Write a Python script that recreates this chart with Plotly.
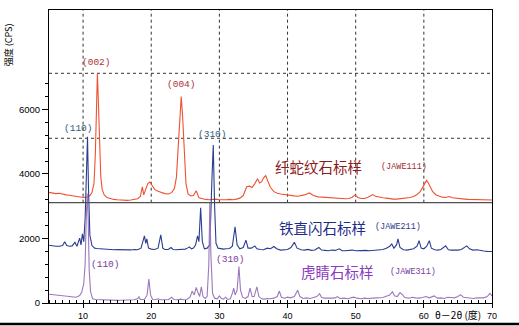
import plotly.graph_objects as go

# ---- data (2θ in degrees, intensity in CPS) ----
serpentine = [
    (5.0, 3430), (5.5, 3410), (6.0, 3390), (6.5, 3400), (7.0, 3370), (7.5, 3350), (8.0, 3340),
    (8.5, 3320), (9.0, 3300), (9.5, 3290), (10.0, 3270), (10.5, 3280), (11.0, 3330), (11.3, 3420),
    (11.6, 3700), (11.8, 4600), (11.95, 6000), (12.1, 7120), (12.25, 6200), (12.4, 4800),
    (12.6, 3900), (12.8, 3520), (13.1, 3350), (13.5, 3270), (14.0, 3230), (14.5, 3210),
    (15.0, 3200), (15.5, 3190), (16.0, 3200), (16.5, 3180), (17.0, 3190), (17.5, 3200),
    (18.0, 3230), (18.4, 3300), (18.7, 3600), (18.9, 3350), (19.2, 3500), (19.5, 3700),
    (19.8, 3750), (20.1, 3650), (20.5, 3520), (21.0, 3460), (21.5, 3420), (22.0, 3390),
    (22.5, 3380), (23.0, 3420), (23.4, 3550), (23.7, 3900), (23.95, 4800), (24.2, 5900),
    (24.4, 6395), (24.6, 5800), (24.85, 4500), (25.1, 3700), (25.4, 3380), (25.8, 3320),
    (26.2, 3330), (26.6, 3480), (27.0, 3260), (27.5, 3230), (28.0, 3210), (28.5, 3200),
    (29.0, 3210), (29.5, 3220), (30.0, 3200), (30.5, 3190), (31.0, 3200), (31.5, 3210),
    (32.0, 3200), (32.5, 3220), (33.0, 3250), (33.5, 3330), (34.0, 3600), (34.4, 3620),
    (34.8, 3580), (35.2, 3700), (35.6, 3850), (35.9, 3720), (36.2, 3760), (36.5, 3880),
    (36.8, 3950), (37.1, 3780), (37.5, 3580), (38.0, 3450), (38.5, 3400), (39.0, 3380),
    (39.5, 3360), (40.0, 3350), (40.5, 3330), (41.0, 3320), (41.5, 3310), (42.0, 3320),
    (42.5, 3350), (43.2, 3410), (43.8, 3330), (44.5, 3290), (45.0, 3280), (45.5, 3270),
    (46.0, 3260), (46.5, 3260), (47.0, 3250), (47.5, 3240), (48.0, 3240), (48.5, 3230),
    (49.0, 3240), (49.5, 3280), (49.9, 3350), (50.3, 3270), (50.8, 3240), (51.3, 3240),
    (51.8, 3280), (52.2, 3330), (52.5, 3360), (52.9, 3310), (53.4, 3280), (54.0, 3260),
    (54.5, 3250), (55.0, 3230), (55.5, 3220), (56.0, 3220), (56.5, 3230), (57.0, 3240),
    (57.5, 3250), (58.0, 3270), (58.5, 3300), (59.0, 3360), (59.5, 3460), (59.9, 3620),
    (60.2, 3760), (60.4, 3800), (60.6, 3740), (60.9, 3600), (61.3, 3450), (61.8, 3350),
    (62.3, 3300), (62.7, 3280), (63.2, 3270), (63.7, 3300), (64.2, 3260), (64.8, 3240),
    (65.5, 3230), (66.0, 3220), (66.5, 3210), (67.0, 3210), (67.5, 3200), (68.0, 3200),
    (68.5, 3195), (69.0, 3190), (69.5, 3190), (70.0, 3190),
]

grunerite = [
    (5.0, 1790), (5.5, 1770), (6.0, 1760), (6.5, 1760), (7.0, 1780), (7.3, 1900), (7.6, 1780),
    (8.0, 1760), (8.4, 1770), (8.8, 1880), (9.1, 1760), (9.5, 2010), (9.7, 1800), (9.9, 2140),
    (10.1, 1900), (10.3, 2600), (10.5, 4500), (10.65, 5155), (10.8, 3500), (11.0, 2100),
    (11.3, 1780), (11.7, 1700), (12.0, 1690), (12.5, 1680), (13.0, 1670), (13.5, 1665),
    (14.0, 1660), (14.5, 1650), (15.0, 1655), (15.5, 1650), (16.0, 1660), (16.5, 1650),
    (17.0, 1645), (17.5, 1660), (18.0, 1650), (18.5, 1700), (19.0, 2080), (19.2, 1850),
    (19.35, 1990), (19.6, 1700), (20.0, 1670), (20.5, 1660), (21.0, 1700), (21.4, 2110),
    (21.7, 1700), (22.0, 1660), (22.5, 1660), (22.9, 1720), (23.2, 1660), (23.6, 1650),
    (24.0, 1650), (24.5, 1650), (25.0, 1670), (25.3, 1700), (25.6, 1740), (25.9, 1680),
    (26.2, 1700), (26.5, 1800), (26.8, 2080), (27.0, 1900), (27.25, 2950), (27.5, 1900),
    (27.8, 1680), (28.2, 1700), (28.6, 1800), (28.9, 3800), (29.1, 4898), (29.3, 3000),
    (29.5, 1850), (29.8, 1700), (30.2, 1680), (30.6, 1670), (31.0, 1680), (31.5, 1690),
    (31.9, 1760), (32.3, 2360), (32.6, 1800), (33.0, 1680), (33.5, 1720), (33.9, 1950),
    (34.2, 1700), (34.7, 1700), (35.2, 1770), (35.5, 1680), (36.0, 1660), (36.5, 1650),
    (37.0, 1700), (37.5, 1680), (38.0, 1750), (38.4, 1680), (39.0, 1640), (39.5, 1650),
    (40.0, 1660), (40.5, 1720), (41.0, 1880), (41.4, 1700), (42.0, 1650), (42.5, 1640),
    (43.0, 1660), (43.5, 1630), (44.0, 1640), (44.6, 1720), (45.0, 1640), (45.5, 1630),
    (46.0, 1620), (46.5, 1640), (47.0, 1630), (47.6, 1680), (48.0, 1620), (48.5, 1620),
    (49.0, 1630), (49.5, 1640), (50.0, 1620), (50.5, 1630), (51.0, 1640), (51.5, 1630),
    (52.0, 1620), (52.5, 1630), (53.0, 1640), (53.5, 1650), (54.0, 1660), (54.5, 1700),
    (55.0, 1760), (55.3, 1830), (55.6, 1700), (56.0, 1800), (56.2, 1990), (56.5, 1720),
    (57.0, 1650), (57.5, 1640), (58.0, 1650), (58.5, 1680), (59.0, 1760), (59.3, 1930),
    (59.6, 1700), (60.0, 1680), (60.4, 1750), (60.8, 1930), (61.1, 1700), (61.6, 1650),
    (62.0, 1640), (62.5, 1660), (63.2, 1770), (63.6, 1650), (64.0, 1640), (64.5, 1630),
    (65.0, 1640), (65.5, 1660), (66.0, 1720), (66.3, 1770), (66.7, 1680), (67.2, 1640),
    (67.8, 1650), (68.3, 1620), (68.8, 1610), (69.3, 1600), (70.0, 1595),
]

tigereye = [
    (5.0, 270), (5.5, 260), (6.0, 250), (6.5, 240), (7.0, 220), (7.5, 210), (8.0, 190),
    (8.5, 180), (9.0, 180), (9.5, 230), (9.8, 330), (10.1, 600), (10.3, 1200), (10.45, 2500),
    (10.6, 3400), (10.75, 2600), (10.9, 1000), (11.1, 350), (11.4, 130), (11.8, 110),
    (12.5, 100), (13.0, 95), (13.5, 90), (14.0, 85), (14.5, 85), (15.0, 80), (15.5, 85),
    (16.0, 90), (16.5, 85), (17.0, 90), (17.5, 100), (18.0, 130), (18.2, 190), (18.4, 110),
    (19.0, 110), (19.4, 250), (19.65, 740), (19.9, 250), (20.2, 110), (20.6, 100), (21.0, 130),
    (21.4, 100), (22.0, 90), (22.5, 100), (23.0, 180), (23.3, 110), (23.8, 100), (24.3, 120),
    (24.7, 100), (25.2, 110), (25.7, 180), (26.0, 370), (26.3, 250), (26.6, 480), (26.9, 300),
    (27.1, 200), (27.35, 500), (27.6, 200), (27.9, 140), (28.2, 200), (28.45, 1200),
    (28.6, 3100), (28.75, 1500), (29.0, 300), (29.3, 150), (29.7, 130), (30.0, 220),
    (30.3, 140), (30.6, 120), (30.9, 180), (31.2, 110), (31.6, 130), (31.9, 300), (32.1, 460),
    (32.3, 250), (32.6, 400), (32.87, 1130), (33.1, 400), (33.4, 180), (33.8, 140),
    (34.2, 200), (34.5, 460), (34.8, 200), (35.1, 200), (35.5, 500), (35.8, 200), (36.2, 130),
    (36.6, 120), (37.0, 140), (37.5, 130), (38.0, 150), (38.5, 200), (38.8, 370), (39.1, 180),
    (39.6, 150), (40.0, 180), (40.4, 160), (41.0, 200), (41.5, 400), (41.8, 200), (42.3, 140),
    (42.8, 160), (43.3, 140), (43.8, 180), (44.3, 200), (44.7, 290), (45.0, 170), (45.5, 150),
    (46.0, 140), (46.5, 150), (47.0, 160), (47.3, 200), (47.7, 140), (48.3, 150), (48.8, 130),
    (49.2, 160), (49.7, 180), (50.2, 150), (50.8, 130), (51.3, 150), (51.8, 140), (52.5, 150),
    (53.0, 160), (53.5, 150), (54.0, 170), (54.6, 220), (55.0, 250), (55.4, 350), (55.7, 220),
    (56.1, 200), (56.5, 320), (56.9, 250), (57.2, 170), (57.8, 150), (58.3, 180), (58.8, 160),
    (59.3, 150), (59.8, 170), (60.3, 200), (60.8, 160), (61.5, 220), (62.0, 150), (62.5, 160),
    (63.0, 140), (63.5, 180), (64.0, 170), (64.5, 160), (65.0, 200), (65.4, 260), (65.8, 180),
    (66.3, 160), (66.8, 150), (67.3, 140), (67.8, 160), (68.3, 150), (68.8, 160), (69.3, 200),
    (69.7, 300), (70.0, 220),
]

x_ticks = [10, 20, 30, 40, 50, 60, 70]
y_ticks = [0, 2000, 4000, 6000]
y_minor = [400, 800, 1200, 1600, 2400, 2800, 3200, 3600, 4400, 4800, 5200, 5600, 6400, 6800]
grid_x = [10, 20, 30, 40, 50, 60]
grid_y = [5105, 7118]
panel_line_y = 3109

fig = go.Figure()
for data, color in [(serpentine, "#ee5230"), (grunerite, "#2b3d8e"), (tigereye, "#9a78bc")]:
    xs = [p[0] for p in data]
    ys = [p[1] for p in data]
    fig.add_trace(go.Scatter(x=xs, y=ys, mode="lines", line=dict(color=color, width=1.1),
                             showlegend=False, hoverinfo="skip"))

shapes = []
for gx in grid_x:
    shapes.append(dict(type="line", xref="x", yref="y", x0=gx, x1=gx, y0=panel_line_y, y1=9080,
                       line=dict(color="#333333", width=1, dash="dot"), layer="below"))
for gy in grid_y:
    shapes.append(dict(type="line", xref="x", yref="y", x0=5, x1=70, y0=gy, y1=gy,
                       line=dict(color="#333333", width=1, dash="dot"), layer="below"))
shapes.append(dict(type="line", xref="x", yref="y", x0=5, x1=70, y0=panel_line_y, y1=panel_line_y,
                   line=dict(color="#505050", width=1.2)))
shapes.append(dict(type="line", xref="paper", yref="paper", x0=-0.12, x1=1.07, y0=-0.072, y1=-0.072,
                   line=dict(color="black", width=2.5)))
fig.update_layout(shapes=shapes)

mono = "Liberation Mono"
cjk = "Noto Sans CJK SC"
ann = [
    (12.04, 7438, "(002)", "#b03232", mono, 9.5),
    (24.47, 6756, "(004)", "#b03232", mono, 9.5),
    (9.3, 5423, "(110)", "#2f5d80", mono, 9.5),
    (29.06, 5237, "(310)", "#2f5d80", mono, 9.5),
    (44.47, 4215, "纤蛇纹石标样", "#8b1c1c", cjk, 14.5),
    (57.09, 4215, "(JAWE111)", "#a03030", mono, 8.5),
    (45.06, 2355, "铁直闪石标样", "#1f2d8a", cjk, 14.5),
    (56.2, 2355, "(JAWE211)", "#2a3d8a", mono, 8.5),
    (47.4, 961, "虎睛石标样", "#8a3cc0", cjk, 14.5),
    (58.4, 961, "(JAWE311)", "#7a3aa0", mono, 8.5),
    (13.36, 1178, "(110)", "#7a3a9a", mono, 9.5),
    (31.56, 1333, "(310)", "#7a3a9a", mono, 9.5),
]
for x, y, t, c, f, s in ann:
    fig.add_annotation(x=x, y=y, xref="x", yref="y", text=t, showarrow=False,
                       font=dict(color=c, family=f, size=s))

fig.add_annotation(xref="paper", yref="paper", x=-0.092, y=0.80, xanchor="center", yanchor="bottom",
                   text="强度 (CPS)", textangle=-90, showarrow=False,
                   font=dict(family=cjk, size=9, color="black"))
fig.add_annotation(xref="paper", yref="paper", x=0.923, y=-0.038, xanchor="center", yanchor="middle",
                   text="θ－2θ (度)", showarrow=False,
                   font=dict(family=cjk, size=10, color="black"))

fig.update_xaxes(range=[5, 70], tickvals=x_ticks, ticktext=[str(v) for v in x_ticks],
                 ticks="outside", ticklen=4, tickcolor="black", showgrid=False, zeroline=False,
                 showline=True, linecolor="black", linewidth=1, mirror=True, automargin=False,
                 tickfont=dict(family="Liberation Sans", size=9, color="black"),
                 minor=dict(dtick=1, tick0=0, ticks="inside", ticklen=3, tickcolor="black", showgrid=False))
fig.update_yaxes(range=[0, 9080], tickvals=y_ticks, ticktext=[str(v) for v in y_ticks],
                 ticks="outside", ticklen=6, tickcolor="black", showgrid=False, zeroline=False,
                 showline=True, linecolor="black", linewidth=1, mirror=True, automargin=False,
                 tickfont=dict(family="Liberation Sans", size=9.5, color="black"),
                 minor=dict(tickvals=y_minor, ticks="outside", ticklen=3, tickcolor="black", showgrid=False))

fig.update_layout(width=519, height=326, margin=dict(l=49, r=27, t=10, b=23, autoexpand=False),
                  paper_bgcolor="white", plot_bgcolor="white")

fig.write_html("out.html")
